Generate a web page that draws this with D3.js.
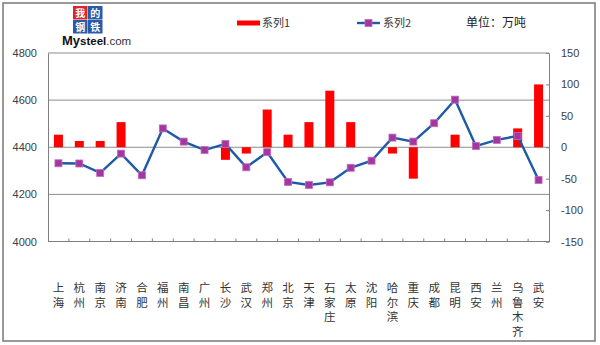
<!DOCTYPE html>
<html>
<head>
<meta charset="utf-8">
<script src="https://cdn.jsdelivr.net/npm/d3@7"></script>
<style>
  html, body { margin: 0; padding: 0; background: #fff; }
  svg { display: block; }
</style>
</head>
<body>
<svg id="chart" width="600" height="345"></svg>
<script>
// Cities along the x axis
const cities = ["上海","杭州","南京","济南","合肥","福州","南昌","广州","长沙","武汉","郑州","北京",
                "天津","石家庄","太原","沈阳","哈尔滨","重庆","成都","昆明","西安","兰州","乌鲁木齐","武安"];
// 系列1: bars, right axis
const series1 = [20, 10, 10, 40, 0, 0, 0, 0, -20, -10, 60, 20,
                 40, 90, 40, 0, -10, -50, 0, 20, 0, 0, 30, 100];
// 系列2: line, left axis
const series2 = [4332, 4331, 4291, 4373, 4281, 4480, 4424, 4388, 4414, 4315, 4379, 4253,
                 4240, 4251, 4313, 4343, 4441, 4424, 4502, 4602, 4405, 4431, 4448, 4261];
const leftTicks = [4000, 4200, 4400, 4600, 4800];
const rightTicks = [-150, -100, -50, 0, 50, 100, 150];
const seriesNames = ["系列1", "系列2"];
const unitLabel = "单位：万吨";
const logoChars = ["我", "的", "钢", "铁"];

const svg = d3.select("#chart");
const plot = { left: 48, right: 549, top: 53, bottom: 241.5 };
const cjk = "'Noto Sans CJK SC', 'Noto Sans', sans-serif";
const latin = "'Liberation Sans', Arial, sans-serif";

// Outer frame
svg.append("rect").attr("x", 3).attr("y", 3).attr("width", 592).attr("height", 338)
  .attr("fill", "#fff").attr("stroke", "#808080").attr("stroke-width", 1.6);

const x = d3.scaleBand().domain(cities).range([plot.left, plot.right]).padding(0);
const yL = d3.scaleLinear().domain([4000, 4800]).range([plot.bottom, plot.top]);
const yR = d3.scaleLinear().domain([-150, 150]).range([plot.bottom, plot.top]);

// Horizontal gridlines from the left axis
svg.append("g").selectAll("line").data(leftTicks.slice(1)).join("line")
  .attr("x1", plot.left).attr("x2", plot.right)
  .attr("y1", d => yL(d)).attr("y2", d => yL(d))
  .attr("stroke", "#8c8c8c").attr("stroke-width", 1);

// Left axis
const gL = svg.append("g").attr("transform", `translate(${plot.left},0)`)
  .call(d3.axisLeft(yL).tickValues(leftTicks).tickSize(0).tickPadding(11).tickFormat(d => String(d)));
gL.select(".domain").attr("stroke", "#808080");
gL.selectAll("text").attr("font-family", latin).attr("font-size", 11).attr("fill", "#404040");

// Right axis
const gR = svg.append("g").attr("transform", `translate(${plot.right},0)`)
  .call(d3.axisRight(yR).tickValues(rightTicks).tickSize(-3).tickPadding(12).tickFormat(d => String(d)));
gR.select(".domain").attr("stroke", "#808080");
gR.selectAll(".tick line").attr("stroke", "#808080");
gR.selectAll("text").attr("font-family", latin).attr("font-size", 11).attr("fill", "#404040");

// Bottom axis line with inward ticks between categories
svg.append("line").attr("x1", plot.left).attr("x2", plot.right)
  .attr("y1", plot.bottom).attr("y2", plot.bottom).attr("stroke", "#808080");
svg.append("g").selectAll("line").data(cities.slice(1)).join("line")
  .attr("x1", d => x(d)).attr("x2", d => x(d))
  .attr("y1", plot.bottom).attr("y2", plot.bottom - 3)
  .attr("stroke", "#808080");

// Category labels, one character per row
const labels = svg.append("g").selectAll("text").data(cities).join("text")
  .attr("x", d => x(d) + x.bandwidth() / 2)
  .attr("y", 292)
  .attr("text-anchor", "middle")
  .attr("font-family", cjk).attr("font-size", 11.5).attr("fill", "#333");
labels.selectAll("tspan").data(d => Array.from(d)).join("tspan")
  .attr("x", function() { return d3.select(this.parentNode).attr("x"); })
  .attr("dy", (c, i) => i === 0 ? 0 : 14.5)
  .text(c => c);

// Bars (系列1)
const barW = 9;
svg.append("g").selectAll("rect").data(series1.map((v, i) => ({ c: cities[i], v })))
  .join("rect")
  .attr("x", d => x(d.c) + x.bandwidth() / 2 - barW / 2)
  .attr("y", d => Math.min(yR(d.v), yR(0)))
  .attr("width", barW)
  .attr("height", d => Math.abs(yR(d.v) - yR(0)))
  .attr("fill", "#ff0000");

// Line (系列2)
const pts = series2.map((v, i) => ({ c: cities[i], v }));
svg.append("path").datum(pts)
  .attr("d", d3.line().x(d => x(d.c) + x.bandwidth() / 2).y(d => yL(d.v)))
  .attr("fill", "none").attr("stroke", "#1f5aa6").attr("stroke-width", 2.4);
svg.append("g").selectAll("rect").data(pts).join("rect")
  .attr("x", d => x(d.c) + x.bandwidth() / 2 - 3.5)
  .attr("y", d => yL(d.v) - 3.5)
  .attr("width", 7).attr("height", 7)
  .attr("fill", "#a2379f").attr("stroke", "#c46ac0").attr("stroke-width", 0.8);

// Legend
const lg = svg.append("g");
lg.append("rect").attr("x", 237).attr("y", 20.5).attr("width", 23).attr("height", 5).attr("fill", "#ff0000");
lg.append("text").attr("x", 262).attr("y", 27).attr("font-family", cjk).attr("font-size", 11)
  .attr("fill", "#333").text(seriesNames[0]);
lg.append("line").attr("x1", 357).attr("x2", 380).attr("y1", 23).attr("y2", 23)
  .attr("stroke", "#1f5aa6").attr("stroke-width", 2.4);
lg.append("rect").attr("x", 365).attr("y", 19.5).attr("width", 7).attr("height", 7)
  .attr("fill", "#a2379f").attr("stroke", "#c46ac0").attr("stroke-width", 0.8);
lg.append("text").attr("x", 383).attr("y", 27).attr("font-family", cjk).attr("font-size", 11)
  .attr("fill", "#333").text(seriesNames[1]);
lg.append("text").attr("x", 466).attr("y", 27).attr("font-family", cjk).attr("font-size", 12)
  .attr("fill", "#222").text(unitLabel);

// Logo: four coloured blocks with one character each, then the site name
const logo = svg.append("g");
const blockColors = ["#d9262c", "#2b5ba6", "#2b5ba6", "#2b5ba6"];
logoChars.forEach((ch, i) => {
  const bx = 73 + (i % 2) * 15, by = 6 + Math.floor(i / 2) * 14;
  logo.append("rect").attr("x", bx).attr("y", by).attr("width", 14.5).attr("height", 13.5)
    .attr("fill", blockColors[i]);
  logo.append("text").attr("x", bx + 7.25).attr("y", by + 10.8).attr("text-anchor", "middle")
    .attr("font-family", cjk).attr("font-size", 10).attr("font-weight", "bold")
    .attr("fill", "#fff").text(ch);
});
const brand = logo.append("text").attr("x", 62).attr("y", 45).attr("font-family", latin).attr("fill", "#111");
brand.append("tspan").attr("font-size", 13).attr("font-weight", "bold").text("My");
brand.append("tspan").attr("font-size", 11.5).attr("font-weight", "bold").text("steel");
brand.append("tspan").attr("font-size", 11.5).attr("fill", "#333").text(".com");
</script>
</body>
</html>
